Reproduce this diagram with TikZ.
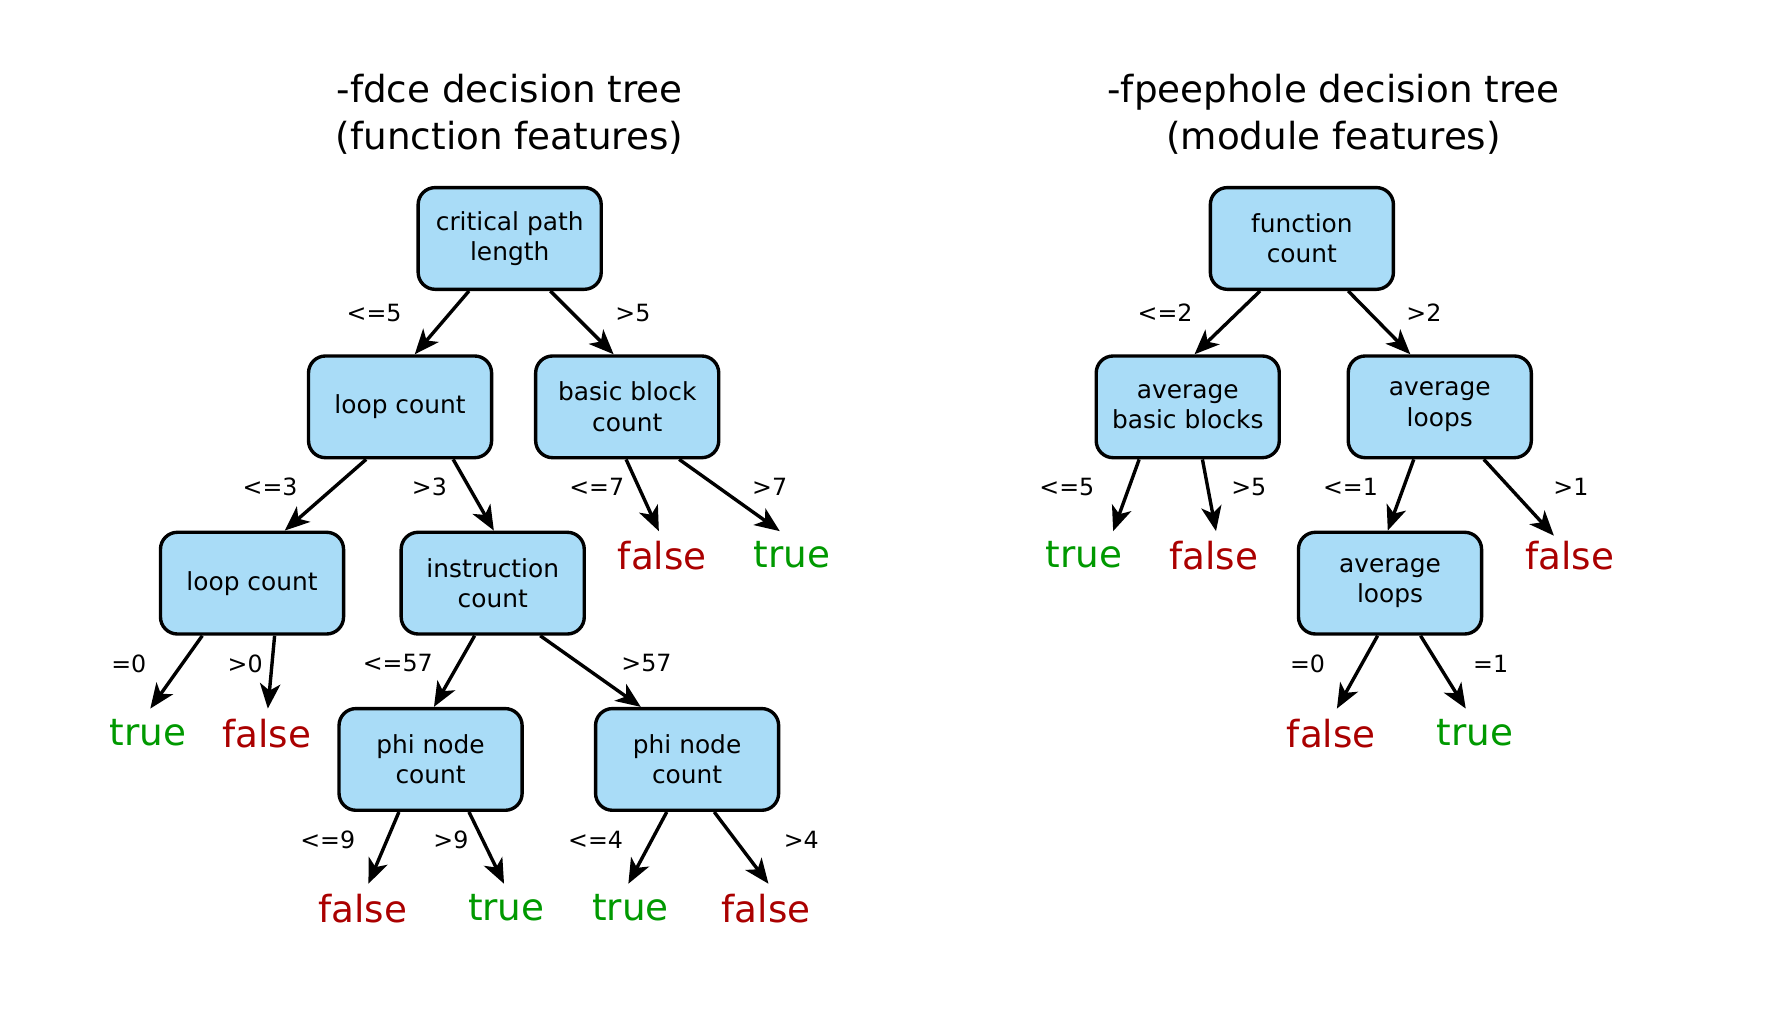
\documentclass[tikz,border=0pt]{standalone}
\usepackage{fontspec}
\setmainfont{DejaVu Sans}
\usetikzlibrary{arrows.meta}
\definecolor{nodeblue}{HTML}{A9DCF7}
\definecolor{truegreen}{HTML}{009900}
\definecolor{falsered}{HTML}{AA0000}

\tikzset{
  test/.style={draw, line width=3pt, fill=nodeblue, rounded corners=15pt,
    minimum width=162pt, minimum height=90pt, inner sep=0pt, align=center,
    font=\fontsize{22}{27}\selectfont},
  leaftrue/.style={anchor=north, inner sep=9pt, text=truegreen,
    font=\fontsize{33}{40}\selectfont},
  leaffalse/.style={anchor=north, inner sep=9pt, text=falsered,
    font=\fontsize{33}{40}\selectfont},
  cond/.style={inner sep=0pt, font=\fontsize{21}{25}\selectfont},
  branch/.style={->, line width=3pt, >={Stealth[length=22pt,width=18pt,inset=6pt]}},
  treetitle/.style={align=center, font=\fontsize{33}{42}\selectfont}
}

\begin{document}
\begin{tikzpicture}[x=1pt, y=-1pt]
  \useasboundingbox (0,0) rectangle (1568,905);

  % Titles
  \node[treetitle] (tleft) at (451,101) {-fdce decision tree\\(function features)};
  \node[treetitle] (tright) at (1180,101) {-fpeephole decision tree\\(module features)};

  %%%% -fdce tree

  % Test nodes
  \node[test] (crit) at (451,211) {critical path\\length};
  \node[test] (loopa) at (354,360) {loop count};
  \node[test] (bbc) at (555,360) {basic block\\count};
  \node[test] (loopb) at (223,516) {loop count};
  \node[test] (instr) at (436,516) {instruction\\count};
  \node[test] (phia) at (381,672) {phi node\\count};
  \node[test] (phib) at (608,672) {phi node\\count};

  % Leaves
  \node[leaffalse] (bbcf) at (586,470) {false};
  \node[leaftrue] (bbct) at (701,470) {true};
  \node[leaftrue] (loopbt) at (131,627) {true};
  \node[leaffalse] (loopbf) at (236,627) {false};
  \node[leaffalse] (phiaf) at (321,782) {false};
  \node[leaftrue] (phiat) at (448,782) {true};
  \node[leaftrue] (phibt) at (558,782) {true};
  \node[leaffalse] (phibf) at (678,782) {false};

  % Branches
  \draw[branch] ([xshift=-36]crit.south) -- ([xshift=13]loopa.north);
  \draw[branch] ([xshift=36]crit.south) -- ([xshift=-12]bbc.north);
  \draw[branch] ([xshift=-30]loopa.south) -- ([xshift=29]loopb.north);
  \draw[branch] ([xshift=47]loopa.south) -- ([xshift=1]instr.north);
  \draw[branch] ([xshift=-1]bbc.south) -- ([xshift=-3]bbcf.north);
  \draw[branch] ([xshift=46]bbc.south) -- ([xshift=-11]bbct.north);
  \draw[branch] ([xshift=-44]loopb.south) -- ([xshift=2]loopbt.north);
  \draw[branch] ([xshift=20]loopb.south) -- ([xshift=1]loopbf.north);
  \draw[branch] ([xshift=-16]instr.south) -- ([xshift=3]phia.north);
  \draw[branch] ([xshift=42]instr.south) -- ([xshift=-41]phib.north);
  \draw[branch] ([xshift=-28]phia.south) -- ([xshift=5]phiaf.north);
  \draw[branch] ([xshift=34]phia.south) -- ([xshift=-2]phiat.north);
  \draw[branch] ([xshift=-18]phib.south) -- ([xshift=-2]phibt.north);
  \draw[branch] ([xshift=24]phib.south) -- ([xshift=2]phibf.north);

  % Conditions
  \node[cond] (ca) at (331,277) {<=5};
  \node[cond] (cb) at (560,277) {>5};
  \node[cond] (cc) at (239,431) {<=3};
  \node[cond] (cd) at (380,431) {>3};
  \node[cond] (ce) at (528,431) {<=7};
  \node[cond] (cf) at (681,431) {>7};
  \node[cond] (cg) at (114,587) {=0};
  \node[cond] (ch) at (217,587) {>0};
  \node[cond] (ci) at (352,587) {<=57};
  \node[cond] (cj) at (572,587) {>57};
  \node[cond] (ck) at (290,743) {<=9};
  \node[cond] (cl) at (399,743) {>9};
  \node[cond] (cm) at (527,743) {<=4};
  \node[cond] (cn) at (709,743) {>4};

  %%%% -fpeephole tree

  % Test nodes
  \node[test] (func) at (1152,211) {function\\count};
  \node[test] (avgbb) at (1051,360) {average\\basic blocks};
  \node[test] (avgla) at (1274,360) {average\\loops};
  \node[test] (avglb) at (1230,516) {average\\loops};

  % Leaves
  \node[leaftrue] (avgbbt) at (959,470) {true};
  \node[leaffalse] (avgbbf) at (1074,470) {false};
  \node[leaffalse] (avglaf) at (1389,470) {false};
  \node[leaffalse] (avglbf) at (1178,627) {false};
  \node[leaftrue] (avglbt) at (1305,627) {true};

  % Branches
  \draw[branch] ([xshift=-37]func.south) -- ([xshift=6]avgbb.north);
  \draw[branch] ([xshift=41]func.south) -- ([xshift=-26]avgla.north);
  \draw[branch] ([xshift=-43]avgbb.south) -- ([xshift=26]avgbbt.north);
  \draw[branch] ([xshift=13]avgbb.south) -- ([xshift=2]avgbbf.north);
  \draw[branch] ([xshift=-23]avgla.south) -- ([xshift=-2]avglb.north);
  \draw[branch] ([xshift=39]avgla.south) -- ([xshift=-14,yshift=-4]avglaf.north);
  \draw[branch] ([xshift=-11]avglb.south) -- ([xshift=5]avglbf.north);
  \draw[branch] ([xshift=27]avglb.south) -- ([xshift=-8]avglbt.north);

  % Conditions
  \node[cond] (co) at (1031,277) {<=2};
  \node[cond] (cp) at (1260,277) {>2};
  \node[cond] (cq) at (944,431) {<=5};
  \node[cond] (cr) at (1105,431) {>5};
  \node[cond] (cs) at (1195,431) {<=1};
  \node[cond] (ct) at (1390,431) {>1};
  \node[cond] (cu) at (1157,587) {=0};
  \node[cond] (cv) at (1319,587) {=1};

\end{tikzpicture}
\end{document}
